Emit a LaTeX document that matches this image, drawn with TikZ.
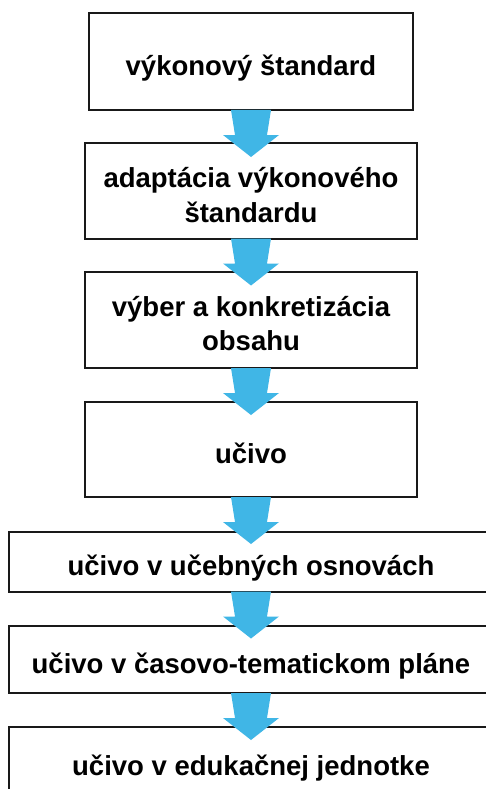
\documentclass[tikz,border=0pt]{standalone}
\usepackage{fontspec}
\setmainfont{Liberation Sans}
\definecolor{arrowblue}{RGB}{64,182,230}
\newcommand\flowarrow[1]{%
  \fill[arrowblue] (#1.south) +(-20,0) -- +(20,0) -- +(16,25) -- +(28,25) -- +(0,47) -- +(-28,25) -- +(-16,25) -- cycle;}
\begin{document}
\begin{tikzpicture}[x=1pt,y=-1pt,
  box/.style={draw=black!90,line width=2pt,fill=white,inner sep=0pt,outer sep=0pt},
  lbl/.style={anchor=base,inner sep=0pt,align=center,font=\bfseries\fontsize{27.5}{35}\selectfont}]
\useasboundingbox[fill=white] (0,0) rectangle (486,789);
% boxes
\node[box,minimum width=324pt,minimum height=97pt] (b1) at (251,61.5) {};
\node[box,minimum width=332pt,minimum height=95.5pt] (b2) at (251,190.75) {};
\node[box,minimum width=332pt,minimum height=96pt] (b3) at (251,320) {};
\node[box,minimum width=332pt,minimum height=95pt] (b4) at (251,449.5) {};
\node[box,minimum width=484pt,minimum height=59.5pt] (b5) at (251,561.75) {};
\node[box,minimum width=484pt,minimum height=67pt] (b6) at (251,659.5) {};
\node[box,minimum width=484pt,minimum height=68pt] (b7) at (251,761) {};
% arrows
\flowarrow{b1}
\flowarrow{b2}
\flowarrow{b3}
\flowarrow{b4}
\flowarrow{b5}
\flowarrow{b6}
% texts
\node[lbl] (t1) at (251,76) {výkonový štandard};
\node[lbl] (t2) at (251,222) {adaptácia výkonového\\štandardu};
\node[lbl,font=\bfseries\fontsize{27.5}{34}\selectfont] (t3) at (251,350) {výber a konkretizácia\\obsahu};
\node[lbl] (t4) at (251,463) {učivo};
\node[lbl] (t5) at (251,575) {učivo v učebných osnovách};
\node[lbl] (t6) at (251,673) {učivo v časovo-tematickom pláne};
\node[lbl] (t7) at (251,775) {učivo v edukačnej jednotke};
\end{tikzpicture}
\end{document}
